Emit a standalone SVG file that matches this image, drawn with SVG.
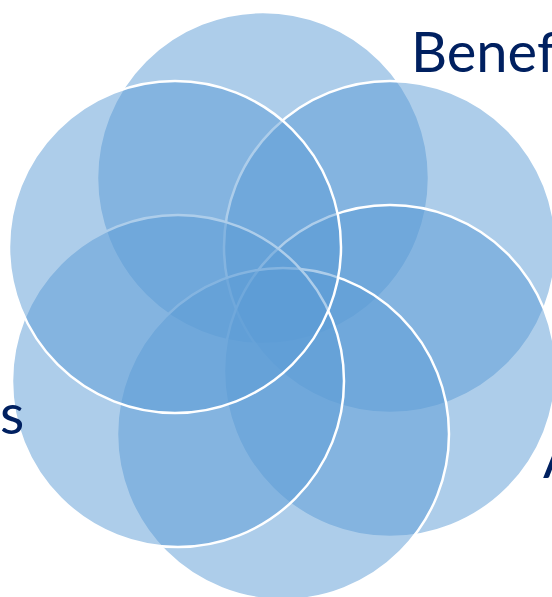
<svg xmlns="http://www.w3.org/2000/svg" width="552" height="597" viewBox="0 0 552 597">
<style>
.c{fill:#5B9BD5;fill-opacity:0.5;stroke:#FFFFFF;stroke-width:2.5}
.t{font-family:Lato,"Open Sans","Liberation Sans",sans-serif;fill:#002060;font-size:56px}
</style>
<rect width="552" height="597" fill="#FFFFFF"/>
<g id="circle-top"><circle class="c" cx="263" cy="178" r="166"/></g>
<g id="circle-top-right"><circle class="c" cx="390" cy="247" r="166"/></g>
<g id="circle-middle-right"><circle class="c" cx="390" cy="371" r="166"/></g>
<g id="circle-bottom"><circle class="c" cx="283" cy="434" r="166"/></g>
<g id="circle-bottom-left"><circle class="c" cx="178" cy="381" r="166"/></g>
<g id="circle-top-left"><circle class="c" cx="175" cy="247" r="166"/></g>
<g id="labels">
<text class="t" x="411" y="72">Benef</text>
<text class="t" x="0" y="434">s</text>
<text class="t" x="543" y="478">A</text>
</g>
<g id="connectors"></g>
</svg>
